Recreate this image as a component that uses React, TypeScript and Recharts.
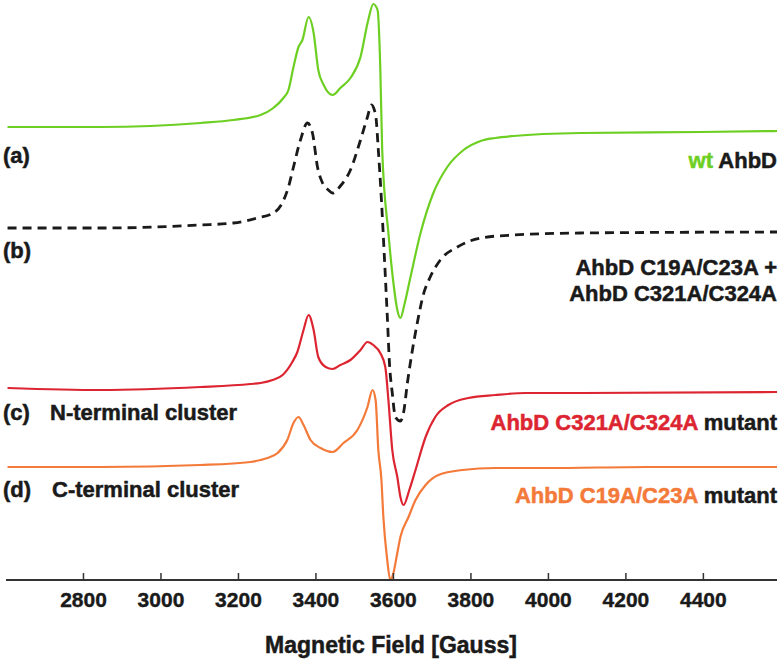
import React from 'react';
import { LineChart, Line, XAxis, YAxis } from 'recharts';

// [field (G), signal (arb. units, offset per trace)]
const wtAhbD: [number, number][] = [
  [2604, 453], [2844, 453], [2973, 454], [3102, 457], [3187, 460], [3257, 465],
  [3290, 472], [3316, 482], [3329, 490], [3342, 513], [3355, 533], [3365, 540],
  [3381, 563], [3394, 547], [3406, 510], [3420, 495], [3443, 485], [3463, 492],
  [3489, 502], [3515, 523], [3535, 560], [3548, 576], [3559, 570], [3566, 513],
  [3571, 430], [3587, 347], [3600, 297], [3610, 270], [3618, 262], [3628, 275],
  [3644, 303], [3670, 347], [3703, 387], [3739, 413], [3781, 430], [3825, 439],
  [3863, 442], [3910, 444], [4083, 447], [4392, 448], [4590, 449],
];

const mixture: [number, number][] = [
  [2604, 352], [2844, 352], [3102, 355], [3187, 357], [3249, 362], [3290, 367],
  [3313, 377], [3329, 393], [3342, 413], [3360, 440], [3378, 457], [3391, 447],
  [3404, 413], [3417, 397], [3432, 390], [3443, 387], [3463, 394], [3489, 410],
  [3515, 440], [3533, 463], [3543, 475], [3554, 465], [3561, 430], [3569, 380],
  [3577, 320], [3584, 265], [3590, 215], [3597, 187], [3605, 163], [3618, 159],
  [3626, 167], [3636, 197], [3649, 230], [3662, 258], [3677, 285], [3695, 303],
  [3721, 320], [3765, 333], [3825, 342], [3910, 345], [4083, 347], [4590, 348],
];

const c321Mutant: [number, number][] = [
  [2604, 192], [2844, 190], [3102, 193], [3231, 196], [3257, 197], [3288, 200],
  [3314, 205], [3339, 218], [3352, 228], [3368, 250], [3381, 265], [3394, 250],
  [3406, 223], [3425, 213], [3443, 211], [3463, 215], [3489, 220], [3515, 230],
  [3533, 238], [3548, 235], [3566, 227], [3579, 213], [3587, 180], [3597, 130],
  [3610, 103], [3618, 83], [3626, 75], [3641, 90], [3657, 110], [3683, 143],
  [3708, 163], [3742, 175], [3793, 182], [3863, 185], [3941, 187], [4083, 187],
  [4590, 188],
];

const c19Mutant: [number, number][] = [
  [2604, 113], [2844, 113], [3102, 115], [3231, 118], [3257, 120], [3275, 122],
  [3301, 127], [3326, 140], [3342, 157], [3355, 163], [3368, 155], [3386, 140],
  [3412, 132], [3443, 128], [3471, 137], [3507, 150], [3533, 173], [3546, 190],
  [3554, 180], [3561, 130], [3569, 100], [3574, 63], [3584, 20], [3592, 0],
  [3600, 7], [3609, 25], [3618, 43], [3639, 63], [3657, 80], [3683, 95],
  [3716, 105], [3778, 110], [3863, 112], [3997, 112], [4255, 113], [4590, 113],
];

const fieldTicks = [2800, 3000, 3200, 3400, 3600, 3800, 4000, 4200, 4400];

const GREEN = '#6dcf22';
const RED = '#dc2531';
const ORANGE = '#f47a3a';
const INK = '#1a1a1a';
const FONT = '"Liberation Sans", Arial, sans-serif';

const toRows = (pts: [number, number][]) => pts.map(([field, value]) => ({ field, value }));

const FieldTick = (props: any) => {
  const { x, y, payload } = props;
  return (
    <g>
      <line x1={x} x2={x} y1={y - 7} y2={y} stroke="#333" strokeWidth={1.5} />
      <text x={x} y={y + 27} textAnchor="middle" fontFamily={FONT} fontWeight="bold" fontSize={21}
        fill={INK} stroke={INK} strokeWidth={0.4}>
        {payload.value}
      </text>
    </g>
  );
};

export default function App() {
  const textProps = { fontFamily: FONT, fontWeight: 'bold' as const, fontSize: 22, fill: INK, stroke: INK, strokeWidth: 0.5 };
  return (
    <div style={{ position: 'relative', width: 782, height: 661, background: '#fff' }}>
      <style>{'body{margin:0}'}</style>
      <LineChart width={782} height={661} margin={{ top: 0, right: 5, bottom: 21, left: 6 }}>
        <XAxis
          type="number"
          dataKey="field"
          domain={[2600, 4590]}
          ticks={fieldTicks}
          allowDataOverflow
          tickSize={0}
          tickMargin={0}
          tickLine={false}
          axisLine={{ stroke: '#333', strokeWidth: 2 }}
          tick={<FieldTick />}
          height={60}
        />
        <YAxis hide type="number" domain={[0, 580]} />
        <Line data={toRows(wtAhbD)} dataKey="value" type="monotone" stroke={GREEN} strokeWidth={2.2} dot={false} isAnimationActive={false} />
        <Line data={toRows(mixture)} dataKey="value" type="monotone" stroke={INK} strokeWidth={2.8} strokeDasharray="9 6" dot={false} isAnimationActive={false} />
        <Line data={toRows(c321Mutant)} dataKey="value" type="monotone" stroke={RED} strokeWidth={2.2} dot={false} isAnimationActive={false} />
        <Line data={toRows(c19Mutant)} dataKey="value" type="monotone" stroke={ORANGE} strokeWidth={2.2} dot={false} isAnimationActive={false} />
      </LineChart>
      <svg width={782} height={661} style={{ position: 'absolute', left: 0, top: 0, pointerEvents: 'none' }}>
        <text x={3} y={163} {...textProps}>(a)</text>
        <text x={3} y={258} {...textProps}>(b)</text>
        <text x={3} y={420} {...textProps}>(c)</text>
        <text x={50} y={420} {...textProps}>N-terminal cluster</text>
        <text x={3} y={497} {...textProps}>(d)</text>
        <text x={52} y={497} {...textProps}>C-terminal cluster</text>
        <text x={777} y={168} textAnchor="end" {...textProps}>
          <tspan fill={GREEN} stroke={GREEN}>wt</tspan> AhbD
        </text>
        <text x={777} y={275} textAnchor="end" {...textProps}>AhbD C19A/C23A +</text>
        <text x={777} y={301} textAnchor="end" {...textProps}>AhbD C321A/C324A</text>
        <text x={777} y={430} textAnchor="end" {...textProps}>
          <tspan fill={RED} stroke={RED}>AhbD C321A/C324A</tspan> mutant
        </text>
        <text x={777} y={503} textAnchor="end" {...textProps}>
          <tspan fill={ORANGE} stroke={ORANGE}>AhbD C19A/C23A</tspan> mutant
        </text>
        <text x={391} y={653} textAnchor="middle" fontFamily={FONT} fontWeight="bold" fontSize={23}
          fill={INK} stroke={INK} strokeWidth={0.5}>
          Magnetic Field [Gauss]
        </text>
      </svg>
    </div>
  );
}
